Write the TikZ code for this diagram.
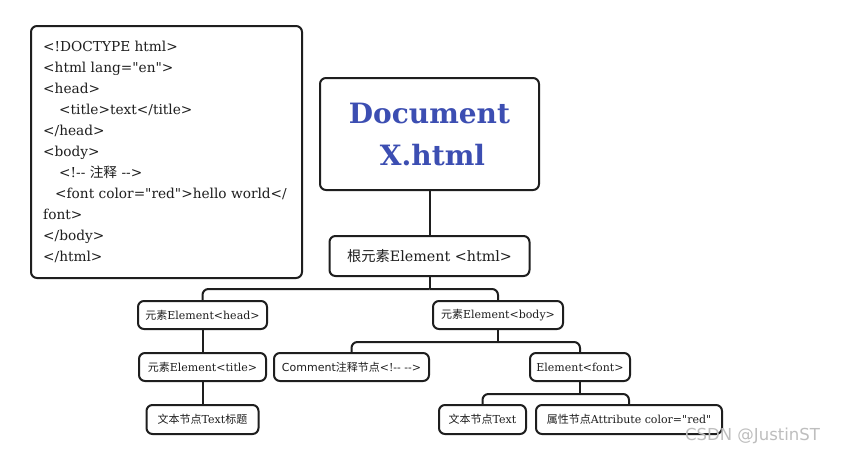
\documentclass[tikz,border=0pt]{standalone}
\usepackage{fontspec}
\setmainfont{DejaVu Serif}[Ligatures=TeXOff]
\newfontfamily\cjk{Noto Sans CJK SC}
\newfontfamily\sansf{DejaVu Sans}[Ligatures=TeXOff]
\definecolor{ink}{RGB}{30,30,30}
\definecolor{docblue}{RGB}{60,78,178}
\definecolor{wm}{RGB}{190,190,190}
\tikzset{
  box/.style={draw=ink, line width=2pt, rounded corners=6pt, fill=white, text=ink, inner sep=0pt, align=center},
  small/.style={box, minimum height=28pt, font=\fontsize{11}{13}\selectfont},
  conn/.style={draw=ink, line width=2pt, rounded corners=6pt},
}
\begin{document}
\begin{tikzpicture}[x=1pt,y=-1pt]
\useasboundingbox (0,0) rectangle (844,455);
\fill[white] (0,0) rectangle (844,455);
% code box
\node[box, minimum width=271pt, minimum height=252pt] (code) at (166.5,152) {};
\node[anchor=north west, inner sep=0pt, align=left, text=ink, font=\fontsize{13.7}{21}\selectfont] (codetext) at (43,41) {%
<!DOCTYPE html>\\
<html lang="en">\\
<head>\\
\hspace*{16pt}<title>text</title>\\
</head>\\
<body>\\
\hspace*{16pt}<!-- {\cjk 注释} -->\\
\hspace*{12pt}<font color="red">hello world</\\
font>\\
</body>\\
</html>};
% document
\node[box, minimum width=219pt, minimum height=112pt, text=docblue, font=\fontsize{28}{42}\selectfont\bfseries] (doc) at (429.5,134) {Document\\ \hspace*{6pt}X.html};
% root
\node[box, minimum width=200pt, minimum height=40pt, font=\fontsize{14.3}{16}\selectfont] (root) at (429.5,256) {{\cjk 根元素}Element <html>};
% level 2
\node[small, minimum width=129pt] (head) at (202.5,315) {{\cjk 元素}Element<head>};
\node[small, minimum width=130pt] (body) at (498,315) {{\cjk 元素}Element<body>};
% level 3
\node[small, minimum width=127pt] (title) at (202.5,367) {{\cjk 元素}Element<title>};
\node[small, minimum width=155pt] (comment) at (351.5,367) {{\sansf Comment}{\cjk 注释节点}<!-- -->};
\node[small, minimum width=100pt] (font) at (580,367) {Element<font>};
% level 4
\node[small, minimum width=112pt, minimum height=29pt] (text1) at (202.5,419.5) {{\cjk 文本节点}Text{\cjk 标题}};
\node[small, minimum width=87pt, minimum height=29pt] (text2) at (482.5,419.5) {{\cjk 文本节点}Text};
\node[small, minimum width=186pt, minimum height=29pt] (attr) at (629,419.5) {{\cjk 属性节点}Attribute color="red"};
% connectors
\draw[conn] (doc.south) -- (root.north);
\draw[conn] (root.south) -- ++(0,12) coordinate (r1);
\draw[conn] (r1) -| (head.north);
\draw[conn] (r1) -| (body.north);
\draw[conn] (head.south) -- (title.north);
\draw[conn] (title.south) -- (text1.north);
\draw[conn] (body.south) -- ++(0,12) coordinate (b1);
\draw[conn] (b1) -| (comment.north);
\draw[conn] (b1) -| (font.north);
\draw[conn] (font.south) -- ++(0,12) coordinate (f1);
\draw[conn] (f1) -| (text2.north);
\draw[conn] (f1) -| (attr.north);
% watermark
\node[anchor=west, inner sep=0pt, text=wm, font=\sansf\fontsize{16.5}{18}\selectfont] (wmark) at (685,436) {CSDN @JustinST};
\end{tikzpicture}
\end{document}
